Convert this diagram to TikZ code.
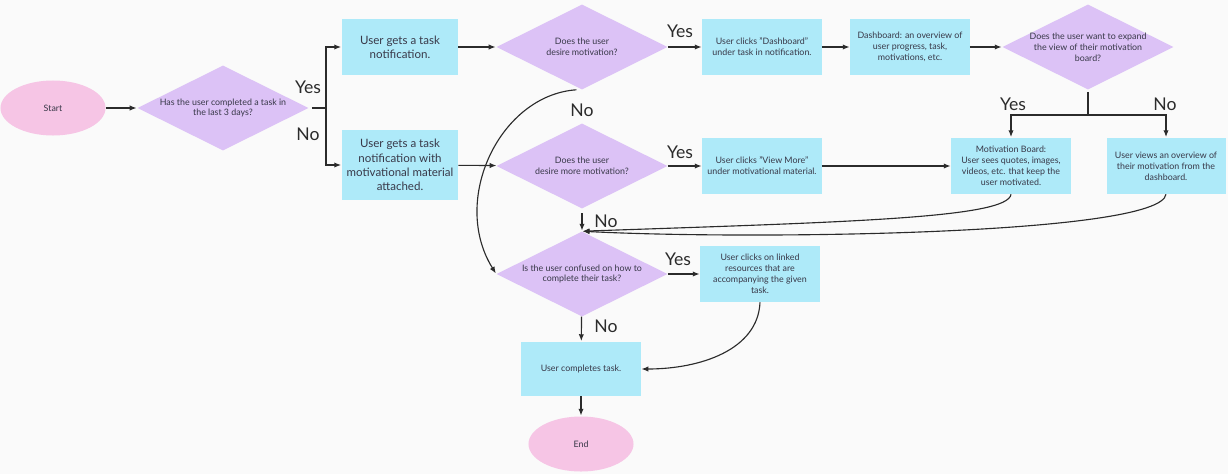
\documentclass[tikz,border=0pt]{standalone}
\usepackage{fontspec}
\setmainfont{Lato}
\usepackage{tikz}
\usetikzlibrary{arrows.meta,shapes.geometric}
\definecolor{fcBg}{HTML}{FAFAFA}
\definecolor{fcInk}{HTML}{2B2B2B}
\definecolor{fcText}{HTML}{383848}
\definecolor{fcPink}{HTML}{F6C5E5}
\definecolor{fcPurple}{HTML}{DCC2F6}
\definecolor{fcCyan}{HTML}{AEEAF9}
\tikzset{
  termnode/.style={ellipse,inner sep=0pt,
    minimum width=2.625cm,minimum height=1.375cm,
    fill=fcPink,text=fcText,font=\fontsize{6.3}{7.8}\selectfont},
  decnode/.style={diamond,aspect=2,inner sep=-5pt,
    minimum width=4.275cm,minimum height=2.125cm,
    align=center,fill=fcPurple,text=fcText,
    font=\fontsize{6.3}{7.8}\selectfont},
  stepbox/.style={rectangle,inner sep=0pt,
    minimum width=2.975cm,minimum height=1.4cm,
    align=center,fill=fcCyan,text=fcText,
    font=\fontsize{6.3}{7.8}\selectfont},
  bigbox/.style={stepbox,minimum width=2.9cm,
    font=\fontsize{8.2}{10.2}\selectfont},
  lbl/.style={font=\fontsize{12.5}{14}\selectfont,text=fcInk,inner sep=0pt},
  arr/.style={-{Latex[length=4.8pt,width=3.8pt]},line width=0.8pt,color=fcInk,shorten >=0.5pt},
  ln/.style={line width=0.8pt,color=fcInk},
}
\begin{document}
\begin{tikzpicture}[x=0.025cm,y=-0.025cm]

  \fill[fcBg] (0,0) rectangle (1228,474);
  \useasboundingbox (0,0) rectangle (1228,474);

  % first row
  \node[termnode] (start) at (53,108) {Start};
  \node[decnode] (d1) at (223,108)
    {Has the user completed a task in\\the last 3 days?};
  \node[bigbox] (n1) at (400,47) {User gets a task\\notification.};
  \node[bigbox,minimum height=1.75cm] (n2) at (400,165)
    {User gets a task\\notification with\\motivational material\\attached.};

  \node[decnode] (d2) at (582,47) {Does the user\\desire motivation?};
  \node[decnode] (d3) at (582,166) {Does the user\\desire more motivation?};

  \node[stepbox] (n3) at (762,47)
    {User clicks "Dashboard"\\under task in notification.};
  \node[stepbox] (n4) at (910,47)
    {Dashboard: an overview of\\user progress, task,\\motivations, etc.};
  \node[decnode] (d4) at (1088,47)
    {Does the user want to expand\\the view of their motivation\\board?};

  % second row
  \node[stepbox] (n5) at (762,166)
    {User clicks "View More"\\under motivational material.};
  \node[stepbox] (n6) at (1011,166)
    {Motivation Board:\\User sees quotes, images,\\videos, etc. that keep the\\user motivated.};
  \node[stepbox] (n7) at (1166,166)
    {User views an overview of\\their motivation from the\\dashboard.};

  % bottom column
  \node[decnode] (d5) at (582,274)
    {Is the user confused on how to\\complete their task?};
  \node[stepbox] (n8) at (760,274)
    {User clicks on linked\\resources that are\\accompanying the given\\task.};
  \node[stepbox,minimum height=1.35cm] (n9) at (581,369) {User completes task.};
  \node[termnode] (end) at (581,444) {End};

  % labels
  \node[lbl] (y1) at (308,87) {Yes};
  \node[lbl] (no1) at (308,134) {No};
  \node[lbl] (y2) at (680,31) {Yes};
  \node[lbl] (no2) at (582,110) {No};
  \node[lbl] (y3) at (680,152) {Yes};
  \node[lbl] (y4) at (1013,104) {Yes};
  \node[lbl] (no4) at (1165,104) {No};
  \node[lbl] (no3) at (606,221) {No};
  \node[lbl] (y5) at (678,259) {Yes};
  \node[lbl] (no5) at (606,326) {No};

  \coordinate (split1) at (326,108);
  \coordinate (split2) at (1088,115);

  \draw[arr] (start) -- (d1);
  \draw[ln] (d1.east) ++(3,0) -- (split1);
  \draw[arr] (split1) |- (n1);
  \draw[arr] (split1) |- (n2);

  \foreach \from/\to in {n1/d2,n2/d3,d2/n3,n3/n4,n4/d4,d3/n5,n5/n6,d5/n8}
    \draw[arr] (\from) -- (\to);

  \draw[ln] (d4.south) ++(0,2) -- (split2);
  \draw[arr] (split2) -| (n6);
  \draw[arr] (split2) -| (n7);

  \draw[arr] ([xshift=-4]d2.south) .. controls (500,95) and (450,200) .. (d5.west);
  \draw[arr] ([yshift=-3]d3.south) -- (d5.north);
  \draw[arr] (n6.south) .. controls (1008,218) and (850,222) .. (d5.north);
  \draw[arr] (n7.south) .. controls (1160,235) and (750,240) .. (d5.north);

  \draw[arr] (d5) -- (n9);
  \draw[arr] (n8.south) .. controls (758,350) and (700,369) .. (n9.east);
  \draw[arr] (n9) -- (end);

\end{tikzpicture}
\end{document}
